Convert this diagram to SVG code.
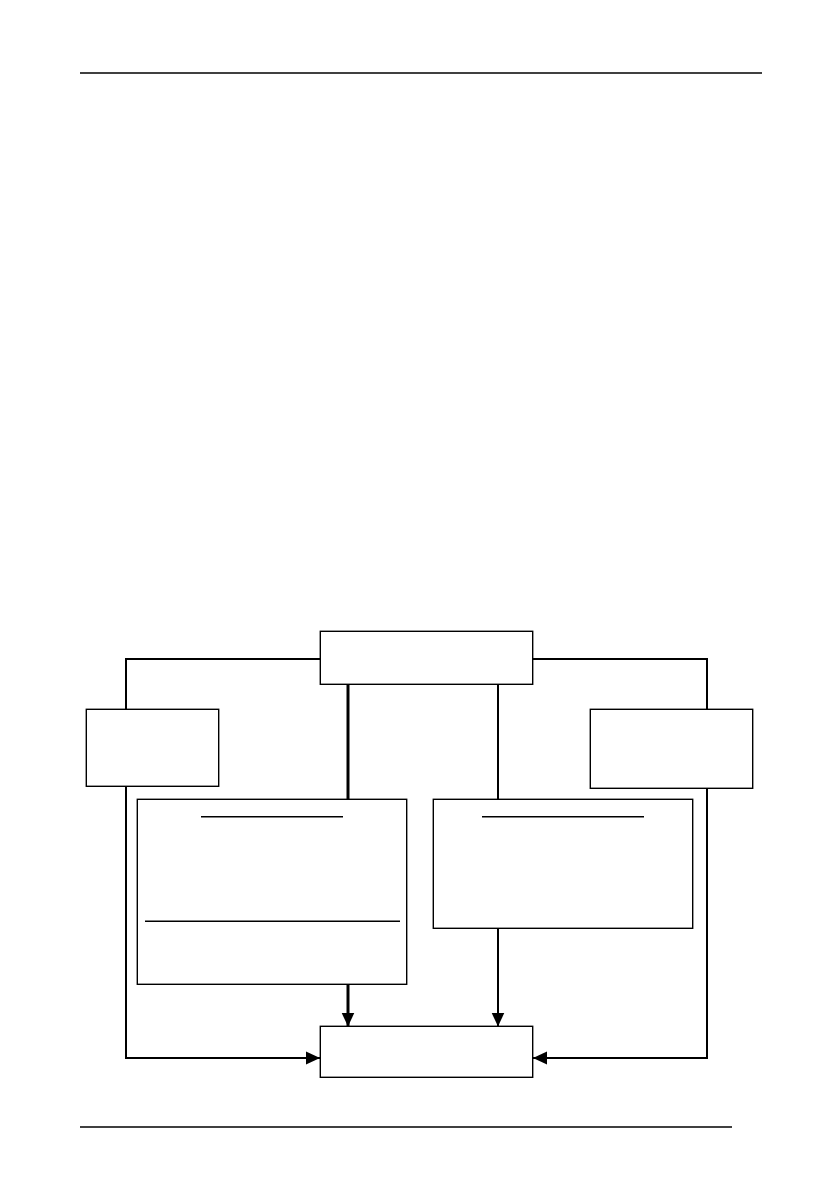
<svg xmlns="http://www.w3.org/2000/svg" width="840" height="1191" viewBox="0 0 840 1191">
<style>
.box{fill:#fff;stroke:#000;stroke-width:1.4}
.rule{stroke:#000;stroke-width:1.4;fill:none}
.conn{stroke:#000;stroke-width:2;fill:none}
.thick{stroke:#000;stroke-width:3;fill:none}
.page{stroke:#000;stroke-width:1.4}
</style>
<defs>
<marker id="arr" markerUnits="userSpaceOnUse" markerWidth="14" markerHeight="14" refX="14" refY="6.5" orient="auto" viewBox="0 0 14 13">
<path d="M0,0 L14,6.5 L0,13 Z" fill="#000"/>
</marker>
</defs>
<rect width="840" height="1191" fill="#fff"/>
<g id="page-lines">
<line class="page" x1="80" y1="73" x2="762" y2="73"/>
<line class="page" x1="80" y1="1127" x2="732" y2="1127"/>
</g>
<g id="connectors">
<path class="conn" d="M320,659 H126 V1058 H320" marker-end="url(#arr)"/>
<path class="conn" d="M533,659 H707 V1058 H533" marker-end="url(#arr)"/>
<path class="thick" d="M348,684 V799"/>
<path class="thick" d="M348,984 V1026.5" marker-end="url(#arr)"/>
<path class="conn" d="M498,684 V799"/>
<path class="conn" d="M498,928 V1026.5" marker-end="url(#arr)"/>
</g>
<g id="top">
<rect class="box" x="320.3" y="631.3" width="212.4" height="53"/>
</g>
<g id="left">
<rect class="box" x="86.3" y="709.3" width="132.4" height="77"/>
</g>
<g id="right">
<rect class="box" x="590.3" y="709.3" width="162.4" height="79"/>
</g>
<g id="mid-left">
<rect class="box" x="137.3" y="799.3" width="269.4" height="185"/>
<line class="rule" x1="201" y1="816.7" x2="343" y2="816.7"/>
<line class="rule" x1="145" y1="921.3" x2="400" y2="921.3"/>
</g>
<g id="mid-right">
<rect class="box" x="433.3" y="799.3" width="259.4" height="129"/>
<line class="rule" x1="482" y1="816.7" x2="644" y2="816.7"/>
</g>
<g id="bottom">
<rect class="box" x="320.3" y="1026.3" width="212.4" height="51"/>
</g>
</svg>
